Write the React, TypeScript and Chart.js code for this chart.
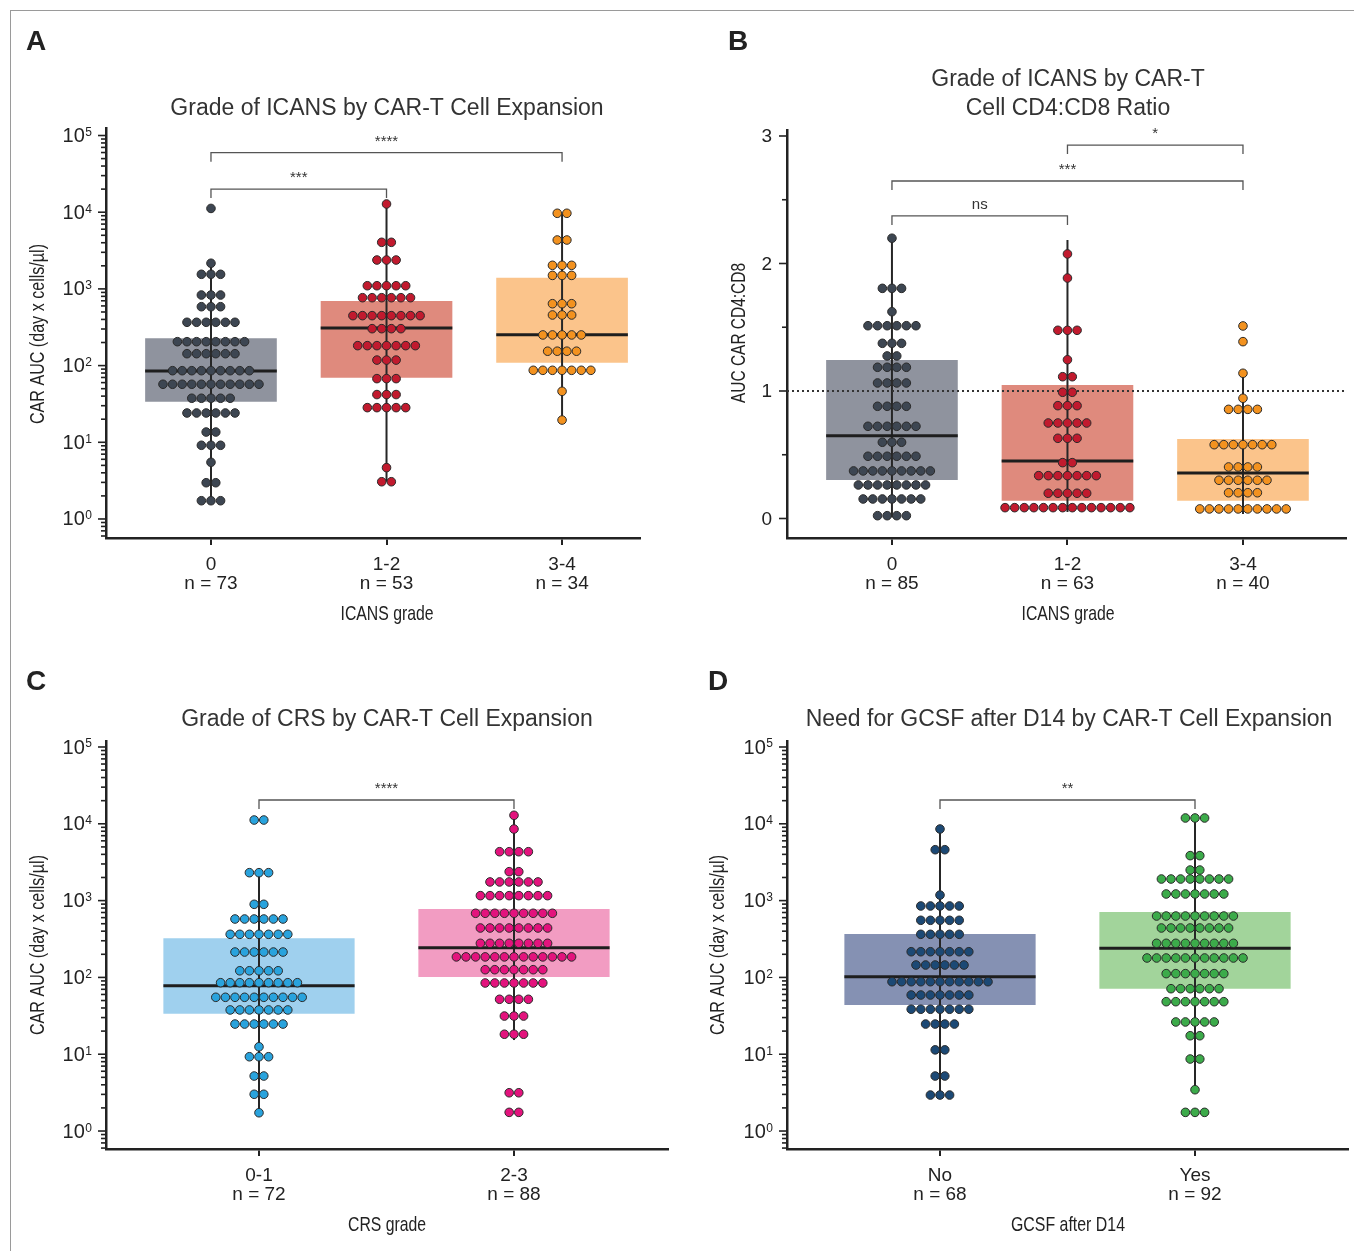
import React, { useEffect, useRef } from 'react';
import { Chart, registerables } from 'chart.js';

Chart.register(...registerables);

type Row = [number, number]; // [value, number of dots drawn at that level]

// ---------------- Panel A: ICANS grade by CAR-T cell expansion (AUC) ----------------
const icansGrades = ['0', '1-2', '3-4'];
const icansAucN = [73, 53, 34];
const icansAucRowsG0: Row[] = [[11200, 1], [2160, 1], [1550, 3], [832, 3], [586, 3], [367, 6], [205, 8], [143, 6], [85.8, 9], [57.1, 11], [37.5, 5], [24.1, 6], [13.6, 2], [9.14, 3], [5.48, 1], [2.97, 2], [1.73, 3]];
const icansAucRowsG1: Row[] = [[12800, 1], [4050, 2], [2380, 3], [1100, 5], [768, 6], [448, 8], [303, 4], [182, 7], [118, 3], [67.6, 3], [41.9, 3], [28.3, 5], [4.67, 1], [3.06, 2]];
const icansAucRowsG2: Row[] = [[9680, 2], [4340, 2], [2030, 3], [1500, 3], [641, 3], [457, 3], [251, 5], [154, 4], [86.8, 7], [46.2, 1], [19.5, 1]];
const icansAucQ1 = [33.8, 69.5, 109];
const icansAucMedian = [85.1, 309, 253];
const icansAucQ3 = [227, 695, 1400];
const icansAucWhiskerLow = [1.73, 3.06, 19.5];
const icansAucWhiskerHigh = [2160, 12800, 9680];
const icansAucBracketFrom = [0, 0];
const icansAucBracketTo = [1, 2];
const icansAucBracketLevel = [20000, 59700];
const icansAucBracketLabel = ['***', '****'];

// ---------------- Panel B: ICANS grade by CD4:CD8 ratio ----------------
const icansRatioN = [85, 63, 40];
const icansRatioRowsG0: Row[] = [[2.198, 1], [1.805, 3], [1.622, 1], [1.512, 6], [1.374, 3], [1.275, 2], [1.186, 4], [1.063, 4], [0.88, 4], [0.723, 6], [0.598, 3], [0.488, 6], [0.373, 9], [0.263, 8], [0.153, 7], [0.022, 4]];
const icansRatioRowsG1: Row[] = [[2.075, 1], [1.886, 1], [1.476, 3], [1.245, 1], [1.112, 2], [0.99, 2], [0.885, 3], [0.749, 5], [0.629, 3], [0.438, 2], [0.336, 7], [0.198, 5], [0.085, 14]];
const icansRatioRowsG2: Row[] = [[1.51, 1], [1.387, 1], [1.139, 1], [0.943, 1], [0.856, 4], [0.579, 7], [0.404, 4], [0.3, 6], [0.202, 4], [0.075, 10]];
const icansRatioQ1 = [0.302, 0.14, 0.14];
const icansRatioMedian = [0.649, 0.451, 0.357];
const icansRatioQ3 = [1.243, 1.047, 0.624];
const icansRatioWhiskerLow = [0.01, 0.05, 0.035];
const icansRatioWhiskerHigh = [2.198, 2.184, 1.139];
const icansRatioBracketFrom = [0, 0, 1];
const icansRatioBracketTo = [1, 2, 2];
const icansRatioBracketLevel = [2.373, 2.647, 2.929];
const icansRatioBracketLabel = ['ns', '***', '*'];
const icansRatioReference = 1;
const ratioTickValues = [0, 1, 2, 3];

// ---------------- Panel C: CRS grade by CAR-T cell expansion ----------------
const crsGrades = ['0-1', '2-3'];
const crsAucN = [72, 88];
const crsAucRowsG0: Row[] = [[11200, 2], [2310, 3], [895, 2], [576, 6], [364, 7], [214, 6], [122, 5], [85.3, 9], [55.1, 10], [37.7, 7], [24.7, 6], [12.5, 1], [9.27, 3], [5.2, 2], [3.01, 2], [1.73, 1]];
const crsAucRowsG1: Row[] = [[12900, 1], [8550, 1], [4330, 4], [2380, 2], [1750, 6], [1160, 8], [684, 9], [440, 8], [278, 8], [185, 13], [126, 7], [84.6, 7], [51.9, 4], [31.4, 3], [18.2, 3], [3.15, 2], [1.75, 2]];
const crsAucQ1 = [33.7, 101];
const crsAucMedian = [78, 244];
const crsAucQ3 = [323, 778];
const crsAucWhiskerLow = [1.73, 15.3];
const crsAucWhiskerHigh = [2310, 12900];
const crsAucBracketFrom = [0];
const crsAucBracketTo = [1];
const crsAucBracketLevel = [20400];
const crsAucBracketLabel = ['****'];

// ---------------- Panel D: Need for GCSF after D14 by CAR-T cell expansion ----------------
const gcsfGroups = ['No', 'Yes'];
const gcsfAucN = [68, 92];
const gcsfAucRowsG0: Row[] = [[8550, 1], [4600, 2], [1180, 1], [851, 5], [554, 5], [364, 5], [216, 7], [145, 6], [87.9, 11], [59.0, 7], [38.5, 7], [24.7, 4], [11.4, 2], [5.2, 2], [2.94, 3]];
const gcsfAucRowsG1: Row[] = [[11900, 3], [3850, 2], [2500, 2], [1910, 8], [1220, 7], [630, 9], [440, 8], [278, 9], [179, 11], [112, 7], [71.3, 6], [48.3, 7], [26.3, 5], [17.4, 2], [8.66, 2], [3.45, 1], [1.75, 3]];
const gcsfAucQ1 = [43.7, 71.3];
const gcsfAucMedian = [102, 239];
const gcsfAucQ3 = [367, 711];
const gcsfAucWhiskerLow = [2.94, 3.45];
const gcsfAucWhiskerHigh = [8550, 11900];
const gcsfAucBracketFrom = [0];
const gcsfAucBracketTo = [1];
const gcsfAucBracketLevel = [20400];
const gcsfAucBracketLabel = ['**'];

const logTickExponents = [0, 1, 2, 3, 4, 5];

// ---------------- Styling ----------------
const FONT = '"Liberation Sans", Arial, Helvetica, sans-serif';
const NARROW = '"Liberation Sans Narrow", "Arial Narrow", "Liberation Sans", Arial, sans-serif';
const INK = '#222222';
const DOT_STEP = 9.6;
const DOT_R = 4.3;
const BOX_HALF = 0.375;

const GRAY_BOX = '#8f939e', GRAY_DOT = '#3d4652';
const SALMON_BOX = '#df8a7d', RED_DOT = '#c11a2e';
const PEACH_BOX = '#fbc48b', ORANGE_DOT = '#f3921f';
const BLUE_BOX = '#9fd0ee', BLUE_DOT = '#29a3dd';
const PINK_BOX = '#f29cc2', PINK_DOT = '#e3137d';
const SLATE_BOX = '#8591b3', NAVY_DOT = '#1c4975';
const GREEN_BOX = '#a2d49b', GREEN_DOT = '#3cab4a';

interface Panel {
  key: string;
  left: number; top: number; width: number; height: number;
  area: { l: number; r: number; t: number; b: number };
  log: boolean;
  yMin: number; yMax: number;
  xMin: number; xMax: number;
  categories: string[]; ns: number[];
  rows: Row[][];
  q1: number[]; median: number[]; q3: number[]; wLo: number[]; wHi: number[];
  boxColors: string[]; dotColors: string[];
  bFrom: number[]; bTo: number[]; bLevel: number[]; bLabel: string[];
  refLine: number | null;
  letter: string; letterX: number; letterY: number;
  title: string[]; titleX: number; titleY: number;
  xTitle: string; xTitleX: number; xTitleY: number; xTitleW: number;
  yTitle: string; yTitleX: number; yTitleY: number; yTitleLen: number;
}

const panels: Panel[] = [
  {
    key: 'A', left: 0, top: 0, width: 680, height: 640,
    area: { l: 106, r: 640, t: 128, b: 538 },
    log: true, yMin: Math.pow(10, -0.248), yMax: Math.pow(10, 5.098),
    xMin: -0.598, xMax: 2.444,
    categories: icansGrades, ns: icansAucN,
    rows: [icansAucRowsG0, icansAucRowsG1, icansAucRowsG2],
    q1: icansAucQ1, median: icansAucMedian, q3: icansAucQ3, wLo: icansAucWhiskerLow, wHi: icansAucWhiskerHigh,
    boxColors: [GRAY_BOX, SALMON_BOX, PEACH_BOX], dotColors: [GRAY_DOT, RED_DOT, ORANGE_DOT],
    bFrom: icansAucBracketFrom, bTo: icansAucBracketTo, bLevel: icansAucBracketLevel, bLabel: icansAucBracketLabel,
    refLine: null,
    letter: 'A', letterX: 26, letterY: 42,
    title: ['Grade of ICANS by CAR-T Cell Expansion'], titleX: 387, titleY: 109,
    xTitle: 'ICANS grade', xTitleX: 387, xTitleY: 614, xTitleW: 93,
    yTitle: 'CAR AUC (day x cells/µl)', yTitleX: 38, yTitleY: 334, yTitleLen: 180,
  },
  {
    key: 'B', left: 680, top: 0, width: 674, height: 640,
    area: { l: 787, r: 1346, t: 130, b: 538 },
    log: false, yMin: -0.153, yMax: 3.047,
    xMin: -0.598, xMax: 2.587,
    categories: icansGrades, ns: icansRatioN,
    rows: [icansRatioRowsG0, icansRatioRowsG1, icansRatioRowsG2],
    q1: icansRatioQ1, median: icansRatioMedian, q3: icansRatioQ3, wLo: icansRatioWhiskerLow, wHi: icansRatioWhiskerHigh,
    boxColors: [GRAY_BOX, SALMON_BOX, PEACH_BOX], dotColors: [GRAY_DOT, RED_DOT, ORANGE_DOT],
    bFrom: icansRatioBracketFrom, bTo: icansRatioBracketTo, bLevel: icansRatioBracketLevel, bLabel: icansRatioBracketLabel,
    refLine: icansRatioReference,
    letter: 'B', letterX: 728, letterY: 42,
    title: ['Grade of ICANS by CAR-T', 'Cell CD4:CD8 Ratio'], titleX: 1068, titleY: 80,
    xTitle: 'ICANS grade', xTitleX: 1068, xTitleY: 614, xTitleW: 93,
    yTitle: 'AUC CAR CD4:CD8', yTitleX: 739, yTitleY: 333, yTitleLen: 140,
  },
  {
    key: 'C', left: 0, top: 640, width: 680, height: 611,
    area: { l: 106, r: 668, t: 741, b: 1149 },
    log: true, yMin: Math.pow(10, -0.234), yMax: Math.pow(10, 5.078),
    xMin: -0.6, xMax: 1.604,
    categories: crsGrades, ns: crsAucN,
    rows: [crsAucRowsG0, crsAucRowsG1],
    q1: crsAucQ1, median: crsAucMedian, q3: crsAucQ3, wLo: crsAucWhiskerLow, wHi: crsAucWhiskerHigh,
    boxColors: [BLUE_BOX, PINK_BOX], dotColors: [BLUE_DOT, PINK_DOT],
    bFrom: crsAucBracketFrom, bTo: crsAucBracketTo, bLevel: crsAucBracketLevel, bLabel: crsAucBracketLabel,
    refLine: null,
    letter: 'C', letterX: 26, letterY: 682,
    title: ['Grade of CRS by CAR-T Cell Expansion'], titleX: 387, titleY: 720,
    xTitle: 'CRS grade', xTitleX: 387, xTitleY: 1225, xTitleW: 78,
    yTitle: 'CAR AUC (day x cells/µl)', yTitleX: 38, yTitleY: 945, yTitleLen: 180,
  },
  {
    key: 'D', left: 680, top: 640, width: 674, height: 611,
    area: { l: 787, r: 1348, t: 741, b: 1149 },
    log: true, yMin: Math.pow(10, -0.234), yMax: Math.pow(10, 5.078),
    xMin: -0.6, xMax: 1.6,
    categories: gcsfGroups, ns: gcsfAucN,
    rows: [gcsfAucRowsG0, gcsfAucRowsG1],
    q1: gcsfAucQ1, median: gcsfAucMedian, q3: gcsfAucQ3, wLo: gcsfAucWhiskerLow, wHi: gcsfAucWhiskerHigh,
    boxColors: [SLATE_BOX, GREEN_BOX], dotColors: [NAVY_DOT, GREEN_DOT],
    bFrom: gcsfAucBracketFrom, bTo: gcsfAucBracketTo, bLevel: gcsfAucBracketLevel, bLabel: gcsfAucBracketLabel,
    refLine: null,
    letter: 'D', letterX: 708, letterY: 682,
    title: ['Need for GCSF after D14 by CAR-T Cell Expansion'], titleX: 1069, titleY: 720,
    xTitle: 'GCSF after D14', xTitleX: 1068, xTitleY: 1225, xTitleW: 114,
    yTitle: 'CAR AUC (day x cells/µl)', yTitleX: 718, yTitleY: 945, yTitleLen: 180,
  },
];

function makeDecor(p: Panel) {
  return {
    id: 'decor' + p.key,
    afterDraw(chart: any) {
      const ctx: CanvasRenderingContext2D = chart.ctx;
      const ys = chart.scales.y;
      const xs = chart.scales.x;
      const area = chart.chartArea;
      ctx.save();

      // y-axis ticks and labels
      const x0 = area.left - 1;
      ctx.strokeStyle = INK;
      ctx.fillStyle = INK;
      ctx.lineWidth = 1.6;
      const tick = (py: number, len: number) => {
        ctx.beginPath();
        ctx.moveTo(x0 - len, py);
        ctx.lineTo(x0, py);
        ctx.stroke();
      };
      if (p.log) {
        const kMin = Math.floor(Math.log10(p.yMin));
        const kMax = Math.ceil(Math.log10(p.yMax));
        for (let k = kMin; k <= kMax; k++) {
          for (let m = 1; m <= 9; m++) {
            const v = m * Math.pow(10, k);
            if (v < p.yMin || v > p.yMax) continue;
            tick(ys.getPixelForValue(v), m === 1 ? 7 : 4);
          }
        }
        logTickExponents.forEach((k) => {
          const py = ys.getPixelForValue(Math.pow(10, k));
          ctx.font = `12px ${FONT}`;
          const sw = ctx.measureText(String(k)).width;
          ctx.font = `20px ${FONT}`;
          const bw = ctx.measureText('10').width;
          const right = x0 - 13;
          ctx.textAlign = 'left';
          ctx.textBaseline = 'middle';
          ctx.fillText('10', right - sw - bw - 0.5, py + 1);
          ctx.font = `12px ${FONT}`;
          ctx.textBaseline = 'alphabetic';
          ctx.fillText(String(k), right - sw, py + 0.5);
        });
      } else {
        ratioTickValues.forEach((v) => {
          const py = ys.getPixelForValue(v);
          tick(py, 7);
          ctx.font = `19px ${FONT}`;
          ctx.textAlign = 'right';
          ctx.textBaseline = 'middle';
          ctx.fillText(String(v), x0 - 14, py + 1);
        });
        for (let i = 0; i < ratioTickValues.length - 1; i++) {
          tick(ys.getPixelForValue((ratioTickValues[i] + ratioTickValues[i + 1]) / 2), 4);
        }
      }

      // significance brackets
      ctx.strokeStyle = '#555555';
      ctx.fillStyle = '#333333';
      ctx.lineWidth = 1.3;
      p.bLevel.forEach((lvl, i) => {
        const px0 = xs.getPixelForValue(p.bFrom[i]);
        const px1 = xs.getPixelForValue(p.bTo[i]);
        const py = ys.getPixelForValue(lvl);
        ctx.beginPath();
        ctx.moveTo(px0, py + 9);
        ctx.lineTo(px0, py);
        ctx.lineTo(px1, py);
        ctx.lineTo(px1, py + 9);
        ctx.stroke();
        ctx.font = `15px ${FONT}`;
        ctx.textAlign = 'center';
        ctx.textBaseline = 'alphabetic';
        ctx.fillText(p.bLabel[i], (px0 + px1) / 2, py - 7);
      });

      // text in page coordinates
      ctx.translate(-p.left, -p.top);
      ctx.fillStyle = INK;
      ctx.font = `bold 28px ${FONT}`;
      ctx.textAlign = 'left';
      ctx.textBaseline = 'middle';
      ctx.fillText(p.letter, p.letterX, p.letterY);

      ctx.fillStyle = '#333333';
      ctx.font = `23px ${FONT}`;
      ctx.textAlign = 'center';
      p.title.forEach((line, i) => ctx.fillText(line, p.titleX, p.titleY + i * 29));

      ctx.fillStyle = INK;
      ctx.font = `21px ${NARROW}`;
      ctx.fillText(p.xTitle, p.xTitleX, p.xTitleY, p.xTitleW);

      ctx.save();
      ctx.translate(p.yTitleX, p.yTitleY);
      ctx.rotate(-Math.PI / 2);
      ctx.fillText(p.yTitle, 0, 0, p.yTitleLen);
      ctx.restore();

      ctx.restore();
    },
  };
}

function buildConfig(p: Panel): any {
  const unitPx = (p.area.r - p.area.l) / (p.xMax - p.xMin);
  const step = DOT_STEP / unitPx;
  const datasets: any[] = [];
  datasets.push({
    type: 'bar',
    data: p.q1.map((q, g) => ({ x: g, y: [q, p.q3[g]] })),
    backgroundColor: p.boxColors,
    borderWidth: 0,
    barPercentage: 0.75,
    categoryPercentage: 1,
    order: 10,
  });
  p.categories.forEach((_, g) => {
    datasets.push({
      type: 'line',
      data: [{ x: g, y: p.wLo[g] }, { x: g, y: p.wHi[g] }],
      borderColor: '#262626', borderWidth: 2, pointRadius: 0, showLine: true, fill: false, order: 9,
    });
    datasets.push({
      type: 'line',
      data: [{ x: g - BOX_HALF, y: p.median[g] }, { x: g + BOX_HALF, y: p.median[g] }],
      borderColor: '#1e1e1e', borderWidth: 3, pointRadius: 0, showLine: true, fill: false, order: 8,
    });
  });
  if (p.refLine !== null) {
    datasets.push({
      type: 'line',
      data: [{ x: p.xMin, y: p.refLine }, { x: p.xMax, y: p.refLine }],
      borderColor: '#333333', borderWidth: 2, borderDash: [2, 3], pointRadius: 0, showLine: true, fill: false, order: 7,
    });
  }
  p.rows.forEach((rows, g) => {
    const pts: { x: number; y: number }[] = [];
    rows.forEach(([v, c]) => {
      for (let j = 0; j < c; j++) pts.push({ x: g + (j - (c - 1) / 2) * step, y: v });
    });
    datasets.push({
      type: 'scatter',
      data: pts,
      backgroundColor: p.dotColors[g],
      borderColor: '#2a2a2a',
      borderWidth: 1,
      pointRadius: DOT_R,
      order: 1,
    });
  });

  const yScaleWidth = 20;
  return {
    type: 'scatter',
    data: { datasets },
    options: {
      animation: false,
      responsive: false,
      events: [],
      layout: {
        padding: {
          left: p.area.l - p.left - yScaleWidth,
          top: p.area.t - p.top,
          right: p.left + p.width - p.area.r,
          bottom: 0,
        },
      },
      plugins: { legend: { display: false }, tooltip: { enabled: false }, title: { display: false } },
      scales: {
        x: {
          type: 'linear',
          min: p.xMin,
          max: p.xMax,
          offset: false,
          afterBuildTicks: (s: any) => { s.ticks = p.categories.map((_, i) => ({ value: i })); },
          afterFit: (s: any) => { s.height = p.top + p.height - p.area.b; },
          grid: { display: true, offset: false, drawOnChartArea: false, drawTicks: true, tickLength: 7, color: INK, lineWidth: 2 },
          border: { display: true, color: INK, width: 2.5 },
          ticks: {
            autoSkip: false,
            maxRotation: 0,
            padding: 10,
            color: INK,
            font: { family: FONT, size: 19, lineHeight: 1.0 },
            callback: (_v: any, i: number) => [p.categories[i], 'n = ' + p.ns[i]],
          },
        },
        y: {
          type: p.log ? 'logarithmic' : 'linear',
          min: p.yMin,
          max: p.yMax,
          afterFit: (s: any) => { s.width = yScaleWidth; },
          grid: { display: false },
          border: { display: true, color: INK, width: 2.5 },
          ticks: { display: false },
        },
      },
    },
    plugins: [makeDecor(p)],
  };
}

function PanelChart({ p }: { p: Panel }) {
  const ref = useRef<HTMLCanvasElement | null>(null);
  useEffect(() => {
    if (!ref.current) return;
    const chart = new Chart(ref.current, buildConfig(p));
    return () => chart.destroy();
  }, [p]);
  return (
    <canvas
      ref={ref}
      width={p.width}
      height={p.height}
      style={{ position: 'absolute', left: p.left, top: p.top, width: p.width, height: p.height }}
    />
  );
}

export default function App() {
  return (
    <div style={{ position: 'absolute', left: 0, top: 0, width: 1354, height: 1251, overflow: 'hidden', background: '#ffffff' }}>
      <div style={{ position: 'absolute', left: 10, top: 10, width: 1360, height: 1260, border: '1px solid #9a9a9a' }} />
      {panels.map((p) => (
        <PanelChart key={p.key} p={p} />
      ))}
    </div>
  );
}
